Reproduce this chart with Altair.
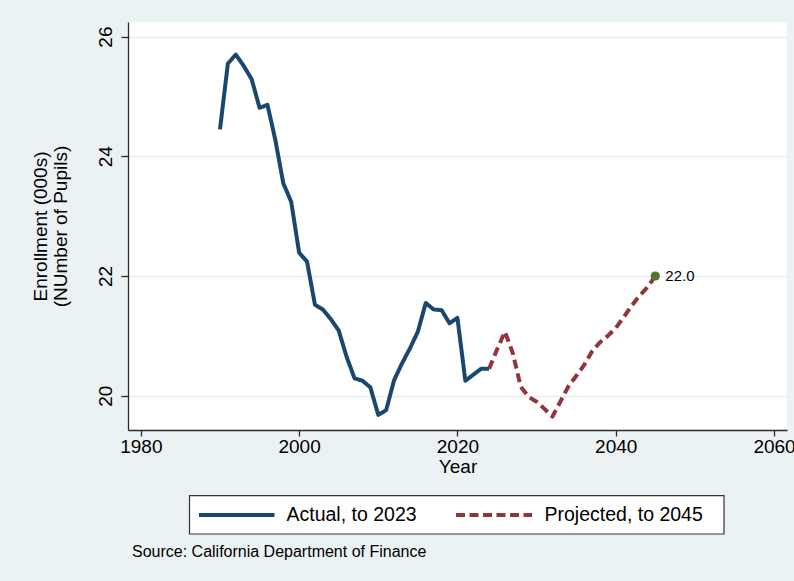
import altair as alt
import pandas as pd

# Public school enrollment, thousands of pupils
actual_years = list(range(1990, 2025))
actual_values = [24.45, 25.55, 25.70, 25.51, 25.29, 24.81, 24.86, 24.27, 23.55, 23.24,
                 22.39, 22.24, 21.52, 21.44, 21.28, 21.09, 20.65, 20.29, 20.25, 20.14,
                 19.68, 19.76, 20.26, 20.54, 20.79, 21.07, 21.55, 21.44, 21.43, 21.21,
                 21.30, 20.25, 20.35, 20.45, 20.45]

projected_years = list(range(2024, 2046))
projected_values = [20.45, 20.77, 21.07, 20.71, 20.15, 19.98, 19.90, 19.78, 19.65, 19.90,
                    20.15, 20.33, 20.51, 20.74, 20.89, 21.00, 21.13, 21.31, 21.50, 21.67,
                    21.81, 22.00]

series_names = ["Actual, to 2023", "Projected, to 2045"]
series_colors = ["#1A476F", "#90353B"]
series_dashes = [[1, 0], [9, 5]]

x_ticks = [1980, 2000, 2020, 2040, 2060]
y_ticks = [20, 22, 24, 26]
x_domain = [1978.38, 2061.64]
y_domain = [19.427, 26.244]

source_note = "Source: California Department of Finance"

FONT = "Liberation Sans"
LINE_W = 4

lines = pd.concat([
    pd.DataFrame({"year": actual_years, "value": actual_values, "series": series_names[0]}),
    pd.DataFrame({"year": projected_years, "value": projected_values, "series": series_names[1]}),
])

endpoint = pd.DataFrame({
    "year": [projected_years[-1]],
    "value": [projected_values[-1]],
    "label": [f"{projected_values[-1]:.1f}"],
})

x_enc = alt.X("year:Q",
              scale=alt.Scale(domain=x_domain, nice=False, zero=False),
              axis=alt.Axis(values=x_ticks, format="d", title="Year", grid=False,
                            tickSize=6, labelPadding=1, titlePadding=1))
y_enc = alt.Y("value:Q",
              scale=alt.Scale(domain=y_domain, nice=False, zero=False),
              axis=alt.Axis(values=y_ticks, format="d",
                            title=["Enrollment (000s)", "(NUmber of Pupils)"],
                            grid=True, tickSize=7, labelAngle=270, labelAlign="center",
                            labelBaseline="alphabetic", labelPadding=10,
                            titleAngle=270, titleX=-97, titleY=204,
                            titleAlign="center", titleBaseline="top",
                            titleLineHeight=20.5))

series_lines = alt.Chart(lines).mark_line(strokeWidth=LINE_W, strokeJoin="round").encode(
    x=x_enc,
    y=y_enc,
    color=alt.Color("series:N", scale=alt.Scale(domain=series_names, range=series_colors),
                    legend=None),
    strokeDash=alt.StrokeDash("series:N",
                              scale=alt.Scale(domain=series_names, range=series_dashes),
                              legend=None),
    detail="series:N",
)

end_point = alt.Chart(endpoint).mark_circle(size=85, color="#55752F", opacity=1).encode(
    x="year:Q", y="value:Q")

end_label = alt.Chart(endpoint).mark_text(
    align="left", baseline="middle", dx=10, font=FONT, fontSize=15, color="black"
).encode(x="year:Q", y="value:Q", text="label:N")

# Boxed key below the axis title
one = pd.DataFrame({"k": [0]})
key_box = alt.Chart(one).mark_rect(fill="white", stroke="#333333", strokeWidth=1.2).encode(
    x=alt.value(61.5), x2=alt.value(596), y=alt.value(473.7), y2=alt.value(512))

key_actual = alt.Chart(one).mark_rule(color=series_colors[0], strokeWidth=LINE_W).encode(
    x=alt.value(71), x2=alt.value(146.5), y=alt.value(493))
key_projected = alt.Chart(one).mark_rule(color=series_colors[1], strokeWidth=LINE_W,
                                         strokeDash=[9, 4.5]).encode(
    x=alt.value(328), x2=alt.value(404), y=alt.value(493))

key_label_actual = alt.Chart(one).mark_text(
    align="left", baseline="middle", font=FONT, fontSize=19.5, color="black",
    text=series_names[0]).encode(x=alt.value(158.5), y=alt.value(493))
key_label_projected = alt.Chart(one).mark_text(
    align="left", baseline="middle", font=FONT, fontSize=19.5, color="black",
    text=series_names[1]).encode(x=alt.value(416.5), y=alt.value(493))

note = alt.Chart(one).mark_text(
    align="left", baseline="middle", font=FONT, fontSize=16, color="black",
    text=source_note).encode(x=alt.value(4), y=alt.value(530))

chart = alt.layer(
    series_lines, end_point, end_label,
    key_box, key_actual, key_projected, key_label_actual, key_label_projected, note,
).properties(
    width=659, height=408,
    autosize=alt.AutoSizeParams(type="none"),
    padding={"left": 128, "top": 22, "right": 7, "bottom": 151},
    background="#EAF2F3",
).configure_view(
    fill="white", strokeWidth=0
).configure_axis(
    labelFont=FONT, titleFont=FONT, labelFontSize=19, titleFontSize=19,
    labelColor="black", titleColor="black", titleFontWeight="normal",
    domainColor="#2b2b2b", domainWidth=1.3, tickColor="#2b2b2b", tickWidth=1.3,
    gridColor="#E3EDF0", gridWidth=1.3,
)

chart.save("out.html", embed_options={"renderer": "svg", "actions": False})
